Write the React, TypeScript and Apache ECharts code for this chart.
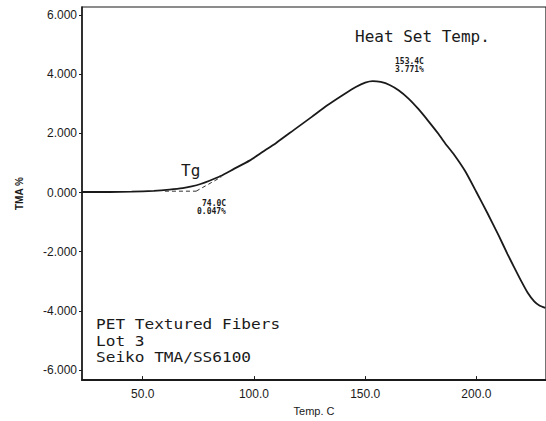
import React, { useEffect, useRef } from "react";
import * as echarts from "echarts";

const temps = [22.7, 35, 45, 55, 62, 68, 72, 76, 80, 85, 91, 98, 104, 110, 118, 126, 133, 140, 146, 150, 153.4, 157, 161, 165, 169.5, 174, 178.5, 183, 186, 190, 195, 200, 205, 210, 214, 217, 220, 223, 226, 228.5, 231];
const tmaValues = [0.02, 0.02, 0.03, 0.06, 0.1, 0.15, 0.21, 0.29, 0.4, 0.56, 0.8, 1.08, 1.38, 1.68, 2.12, 2.56, 2.95, 3.3, 3.58, 3.72, 3.771, 3.74, 3.64, 3.46, 3.18, 2.82, 2.41, 1.98, 1.66, 1.28, 0.72, 0.02, -0.7, -1.45, -2.08, -2.53, -2.97, -3.38, -3.68, -3.83, -3.9];
const baselineTangent = [[60, 0.047], [74, 0.047]];
const slopeTangent = [[74, 0.047], [85.4, 0.53]];
const xTicks = [50, 100, 150, 200];
const yTicks = [-6, -4, -2, 0, 2, 4, 6];
const sampleLines = ["PET Textured Fibers", "Lot 3", "Seiko TMA/SS6100"];

export default function App() {
  const ref = useRef<HTMLDivElement>(null);
  useEffect(() => {
    const chart = echarts.init(ref.current!, null, { renderer: "svg" });
    const ink = "#1a1a1a";
    const mono = "'DejaVu Sans Mono'";
    const sampleTops = [317, 334, 350];
    chart.setOption({
      animation: false,
      backgroundColor: "#ffffff",
      grid: { left: 82, top: 7, right: -2, bottom: 34, show: true, borderColor: ink, borderWidth: 1.2 },
      xAxis: {
        type: "value",
        min: 22.7,
        max: 231.3,
        name: "Temp. C",
        nameLocation: "middle",
        nameGap: 24,
        nameTextStyle: { fontFamily: "Liberation Sans", fontSize: 11, color: ink },
        axisLine: { show: true, onZero: false, lineStyle: { color: ink, width: 2 } },
        axisTick: { show: true, inside: true, length: 4, customValues: xTicks, lineStyle: { color: ink } },
        axisLabel: {
          customValues: xTicks,
          formatter: (v: number) => v.toFixed(1),
          fontFamily: "Liberation Sans",
          fontSize: 12,
          color: ink,
          margin: 8,
        },
        splitLine: { show: false },
      },
      yAxis: {
        type: "value",
        min: -6.342,
        max: 6.276,
        name: "TMA %",
        nameLocation: "middle",
        nameRotate: 90,
        nameGap: 58,
        nameTextStyle: { fontFamily: "Liberation Sans", fontSize: 10, fontWeight: "bold", color: ink },
        axisLine: { show: true, onZero: false, lineStyle: { color: ink, width: 1.5 } },
        axisTick: { show: true, inside: false, length: 3, customValues: yTicks, lineStyle: { color: ink } },
        axisLabel: {
          customValues: yTicks,
          formatter: (v: number) => v.toFixed(3),
          fontFamily: "Liberation Sans",
          fontSize: 12,
          color: ink,
          margin: 5,
        },
        splitLine: { show: false },
      },
      series: [
        {
          type: "line",
          data: temps.map((t, i) => [t, tmaValues[i]]),
          smooth: 0.2,
          symbol: "none",
          lineStyle: { color: ink, width: 1.8 },
        },
        {
          type: "line",
          data: baselineTangent,
          symbol: "none",
          lineStyle: { color: "#333", width: 1, type: [4, 3] },
        },
        {
          type: "line",
          data: slopeTangent,
          symbol: "none",
          lineStyle: { color: "#333", width: 1, type: [4, 3] },
        },
      ],
      graphic: [
        { type: "text", left: 355, top: 28, style: { text: "Heat Set Temp.", font: `16px ${mono}`, fill: ink, lineHeight: 16 } },
        { type: "text", left: 395, top: 57, style: { text: "153.4C", font: `bold 8px ${mono}`, fill: ink, lineHeight: 8 } },
        { type: "text", left: 395, top: 65, style: { text: "3.771%", font: `bold 8px ${mono}`, fill: ink, lineHeight: 8 } },
        { type: "text", left: 181, top: 162, style: { text: "Tg", font: `16px ${mono}`, fill: ink, lineHeight: 16 } },
        { type: "text", left: 202, top: 199, style: { text: "74.0C", font: `bold 8px ${mono}`, fill: ink, lineHeight: 8 } },
        { type: "text", left: 197, top: 207, style: { text: "0.047%", font: `bold 8px ${mono}`, fill: ink, lineHeight: 8 } },
        ...sampleLines.map((line, i) => ({
          type: "text",
          x: 96,
          y: sampleTops[i],
          scaleX: 1.15,
          style: { text: line, font: `14px ${mono}`, fill: ink, verticalAlign: "top" },
        })),
      ],
    });
    return () => chart.dispose();
  }, []);
  return <div ref={ref} style={{ position: "fixed", left: 0, top: 0, width: 546, height: 421, background: "#fff" }} />;
}
